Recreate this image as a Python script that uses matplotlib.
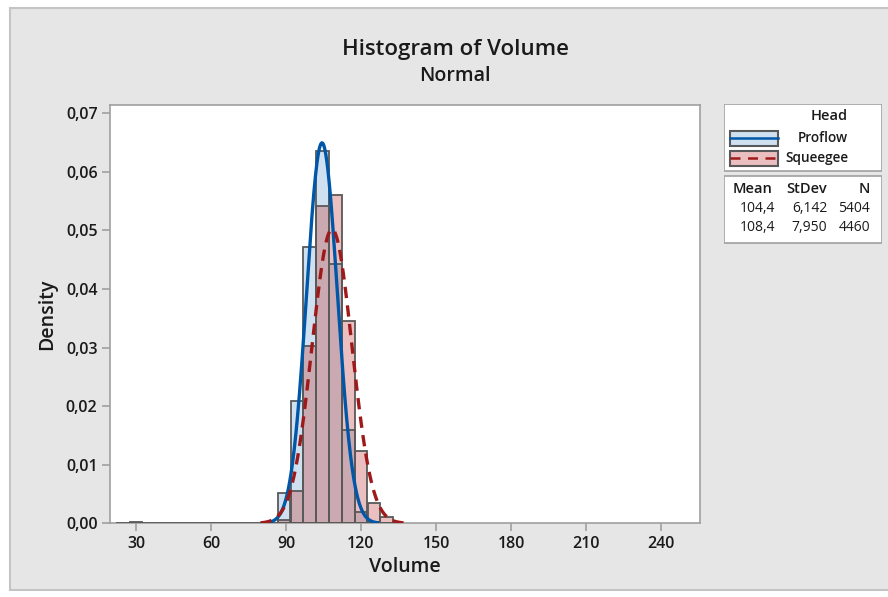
import numpy as np
import matplotlib
matplotlib.use("Agg")
import matplotlib.pyplot as plt
from matplotlib.patches import Rectangle

plt.rcParams['font.family'] = ['Open Sans', 'DejaVu Sans']

# ---- data ----
bin_left = [86.6, 91.8, 96.9, 102.0, 107.2, 112.3, 117.4, 122.6, 127.7]
bin_width = 5.14
proflow = [0.0052, 0.0209, 0.0472, 0.0636, 0.0443, 0.0159, 0.0019, 0.0003, 0.0]
squeegee = [0.0006, 0.0055, 0.0303, 0.0541, 0.0560, 0.0345, 0.0123, 0.0035, 0.0010]
outlier_left = [27.4]
outlier_height = [0.0002]
baseline_range = [22.3, 132.9]

groups = ["Proflow", "Squeegee"]
means = [104.4, 108.4]
stdevs = [6.142, 7.950]
counts = [5404, 4460]

xticks = [30, 60, 90, 120, 150, 180, 210, 240]
yticks = [0.00, 0.01, 0.02, 0.03, 0.04, 0.05, 0.06, 0.07]

# ---- style ----
W, H = 888, 597
BLUE_FILL = "#CFE0F1"
PINK_FILL = "#EBBFBF"
OVER_FILL = "#CBA9B1"
EDGE = "#595959"
BLUE_LINE = "#0057A8"
RED_LINE = "#9E1A1A"
TXT = "#1A1A1A"

fig = plt.figure(figsize=(W / 100, H / 100), dpi=100, facecolor="white")

def fx(px):
    return px / W

def fy(py):
    return 1 - py / H

# gray panel
fig.patches.append(Rectangle((fx(10), fy(590)), fx(890), (582) / H, transform=fig.transFigure,
                             facecolor="#E6E6E6", edgecolor="#C4C4C4", lw=1.5, zorder=-10))

ax = fig.add_axes([fx(110), fy(523.3), fx(700 - 110), (523.3 - 105) / H])
ax.set_facecolor("white")

bl = np.array(bin_left)
pf = np.array(proflow)
sq = np.array(squeegee)
ov = np.minimum(pf, sq)

ax.bar(bl, pf, width=bin_width, align="edge", color=BLUE_FILL, lw=0, zorder=2)
ax.bar(bl, sq, width=bin_width, align="edge", color=PINK_FILL, lw=0, zorder=2)
ax.bar(bl, ov, width=bin_width, align="edge", color=OVER_FILL, lw=0, zorder=3)
ax.bar(bl, pf, width=bin_width, align="edge", fill=False, edgecolor=EDGE, lw=1.3, zorder=4)
ax.bar(bl, sq, width=bin_width, align="edge", fill=False, edgecolor=EDGE, lw=1.3, zorder=4)
ax.bar(outlier_left, outlier_height, width=bin_width, align="edge", color=BLUE_FILL,
       edgecolor=EDGE, lw=1.3, zorder=4)
ax.plot(baseline_range, [0, 0], color=EDGE, lw=1.3, zorder=4)

# fitted normal curves
for m, s, col, ls in [(means[0], stdevs[0], BLUE_LINE, "-"), (means[1], stdevs[1], RED_LINE, "--")]:
    xs = np.linspace(m - 3.6 * s, m + 3.6 * s, 400)
    ys = np.exp(-0.5 * ((xs - m) / s) ** 2) / (s * np.sqrt(2 * np.pi))
    line, = ax.plot(xs, ys, color=col, lw=2.4, ls=ls, zorder=5)
    if ls == "--":
        line.set_dashes((3.4, 2.2))

ax.set_xlim(19.6, 255.6)
ax.set_ylim(0, 0.07142)
ax.set_xticks(xticks)
ax.set_xticklabels([str(v) for v in xticks])
ax.set_yticks(yticks)
ax.set_yticklabels([f"{v:.2f}".replace(".", ",") for v in yticks])
for sp in ax.spines.values():
    sp.set_color("#A0A0A0")
    sp.set_linewidth(1.2)
ax.tick_params(axis="both", direction="out", length=6, width=1.2, color="#A0A0A0",
               labelsize=11.5, labelcolor=TXT, pad=3)
for lab in ax.get_xticklabels() + ax.get_yticklabels():
    lab.set_fontweight("semibold")

ax.set_xlabel("Volume", fontsize=14, fontweight="semibold", color=TXT, labelpad=4)
ax.set_ylabel("Density", fontsize=14, fontweight="semibold", color=TXT, labelpad=6)

fig.text(fx(455), fy(49), "Histogram of Volume", ha="center", va="center",
         fontsize=16, fontweight="semibold", color=TXT)
fig.text(fx(455), fy(76), "Normal", ha="center", va="center",
         fontsize=14, fontweight="semibold", color=TXT)

# ---- legend ----
lax = fig.add_axes([fx(724), fy(243.5), fx(158), 139.5 / H])
lax.set_xlim(0, 158)
lax.set_ylim(139.5, 0)
lax.axis("off")
lax.add_patch(Rectangle((0, 0), 158, 67, facecolor="white", edgecolor="#A0A0A0", lw=1.2))
lax.add_patch(Rectangle((0, 71.7), 158, 67.6, facecolor="white", edgecolor="#A0A0A0", lw=1.2))

lax.text(124, 12.5, "Head", ha="right", va="center", fontsize=10.5, fontweight="semibold", color=TXT)
patch_rows = [(27, 41.7, BLUE_FILL, BLUE_LINE, "-"), (46.7, 62, PINK_FILL, RED_LINE, "--")]
for (y0, y1, fc, lc, ls), g in zip(patch_rows, groups):
    lax.add_patch(Rectangle((6, y0), 48, y1 - y0, facecolor=fc, edgecolor=EDGE, lw=1.5))
    ln, = lax.plot([6, 54], [(y0 + y1) / 2] * 2, color=lc, lw=1.8, ls=ls)
    if ls == "--":
        ln.set_dashes((4, 3))
    lax.text(124, (y0 + y1) / 2, g, ha="right", va="center", fontsize=9.8,
             fontweight="semibold", color=TXT)

lax.text(9, 85, "Mean", ha="left", va="center", fontsize=10.5, fontweight="semibold", color=TXT)
lax.text(103, 85, "StDev", ha="right", va="center", fontsize=10.5, fontweight="semibold", color=TXT)
lax.text(146, 85, "N", ha="right", va="center", fontsize=10.5, fontweight="semibold", color=TXT)
for i, (m, s, n) in enumerate(zip(means, stdevs, counts)):
    yy = 104.7 + i * 18.5
    lax.text(51, yy, f"{m:.1f}".replace(".", ","), ha="right", va="center", fontsize=10, color=TXT)
    lax.text(103, yy, f"{s:.3f}".replace(".", ","), ha="right", va="center", fontsize=10, color=TXT)
    lax.text(146, yy, f"{n}", ha="right", va="center", fontsize=10, color=TXT)

fig.savefig("out.png", dpi=100, facecolor="white")
